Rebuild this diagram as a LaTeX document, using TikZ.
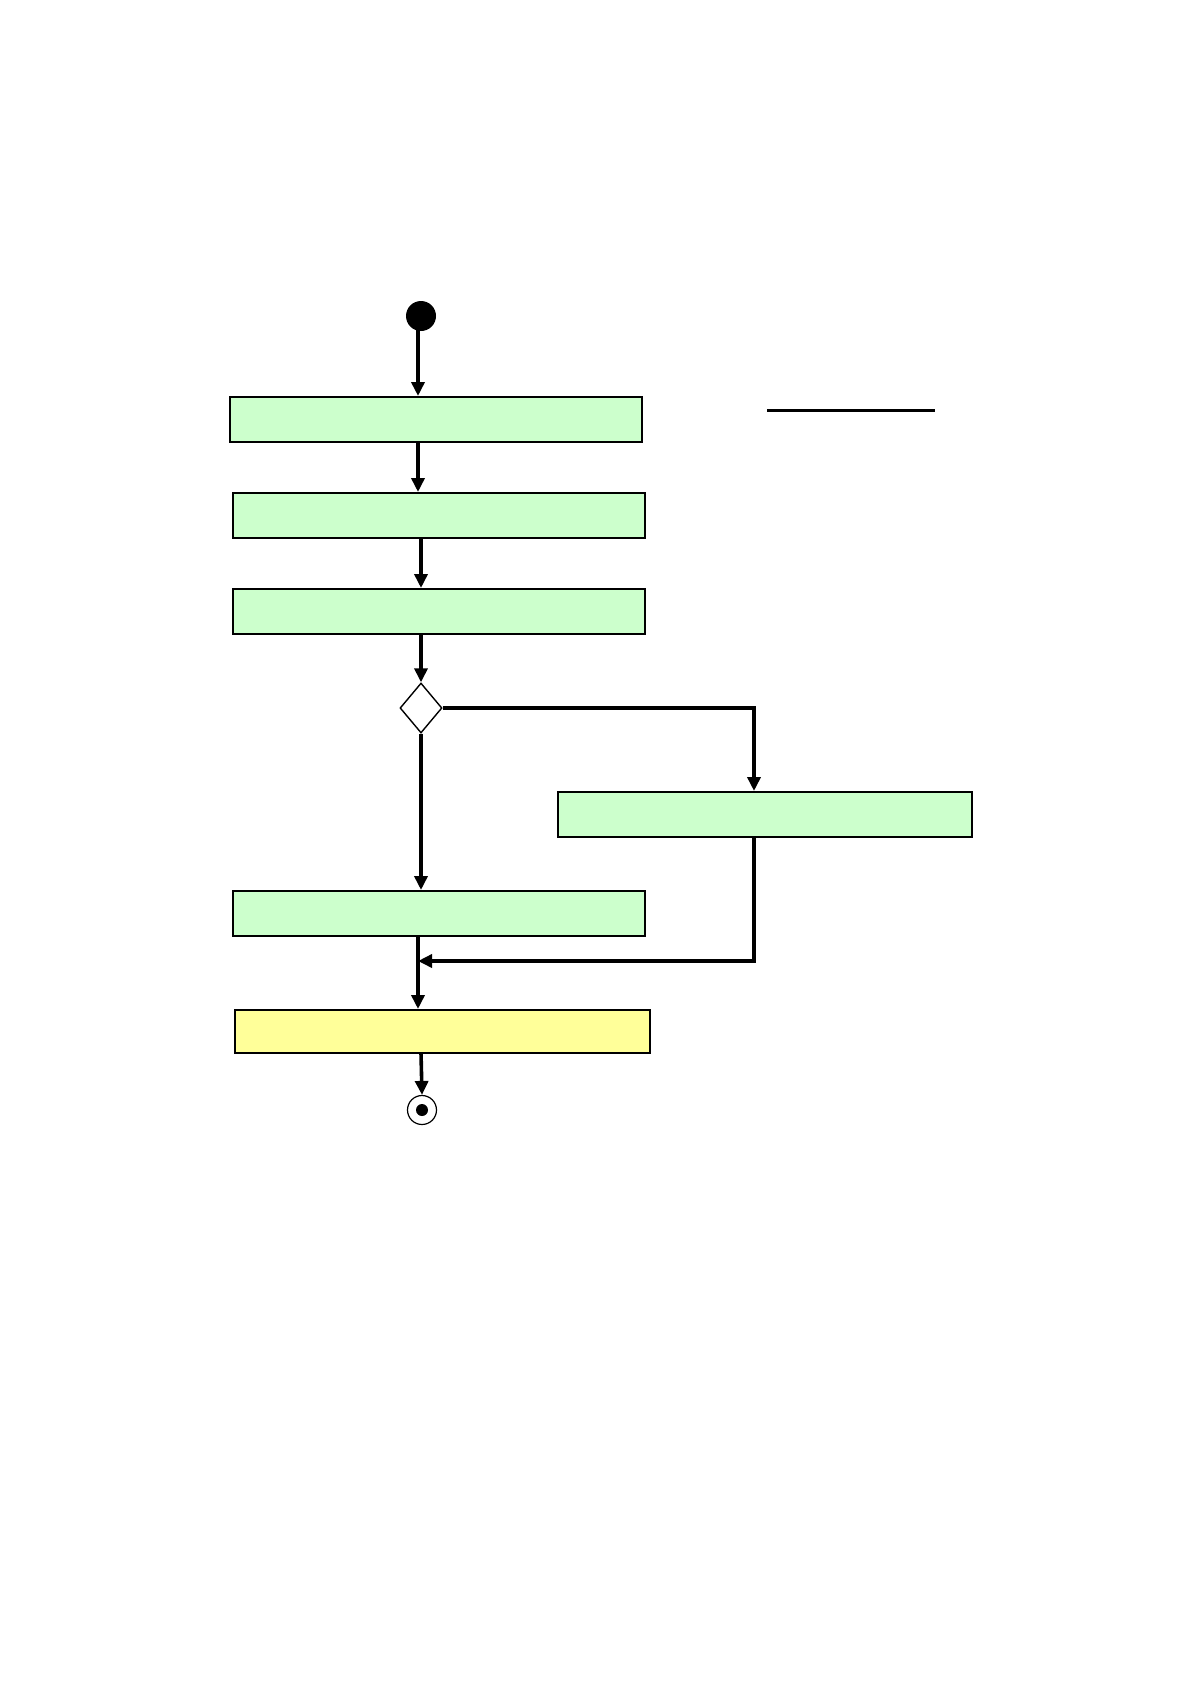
\documentclass[tikz,border=0pt]{standalone}
\usetikzlibrary{arrows.meta,shapes.geometric}
\definecolor{actgreen}{HTML}{CCFFCC}
\definecolor{actyellow}{HTML}{FFFF99}
\begin{document}
\begin{tikzpicture}[x=1pt,y=-1pt,
  actbox/.style={draw=black,line width=2pt,minimum width=412pt,minimum height=45pt,inner sep=0pt,anchor=north west},
  flow/.style={line width=3.6pt,-{Triangle[length=14pt,width=13pt]}},
  plain/.style={line width=3.6pt}]
\useasboundingbox[fill=white] (0,0) rectangle (1191,1684);
\node[circle,fill=black,minimum size=30pt,inner sep=0pt] (start) at (421,316) {};
\node[actbox,fill=actgreen] (b1) at (229,396) {};
\node[actbox,fill=actgreen] (b2) at (232,492) {};
\node[actbox,fill=actgreen] (b3) at (232,588) {};
\node[diamond,draw=black,line width=1.4pt,minimum width=42pt,minimum height=50pt,inner sep=0pt,aspect=0.84] (dec) at (421,708) {};
\node[actbox,fill=actgreen,minimum width=414pt] (br) at (557,791) {};
\node[actbox,fill=actgreen] (b4) at (232,890) {};
\node[actbox,fill=actyellow,minimum width=415pt,minimum height=43pt] (by) at (234,1009) {};
\node[circle,draw=black,line width=1.2pt,minimum size=29pt,inner sep=0pt] (fin) at (422,1110) {};
\node[circle,fill=black,minimum size=12pt,inner sep=0pt] at (fin.center) {};
\coordinate (l1) at (767,410);
\coordinate (l2) at (935,410);
\coordinate (merge) at (418,961);
\coordinate (rcorner) at (754,708);
\coordinate (rbot) at (754,961);
\draw[line width=3pt] (l1) -- (l2);
\draw[flow] (418,330) -- (418,396);
\draw[flow] (418,443) -- (418,492);
\draw[flow] (421,539) -- (421,588);
\draw[flow] (421,635) -- (dec.north);
\draw[flow] (dec.south) -- (421,890);
\draw[flow,line join=miter] (dec.east) -- (rcorner) -- (754,791);
\draw[flow,line join=miter] (754,838) -- (rbot) -- (merge);
\draw[flow] (418,936) -- (418,1009);
\draw[flow] (421,1053) -- (fin.north);
\end{tikzpicture}
\end{document}
